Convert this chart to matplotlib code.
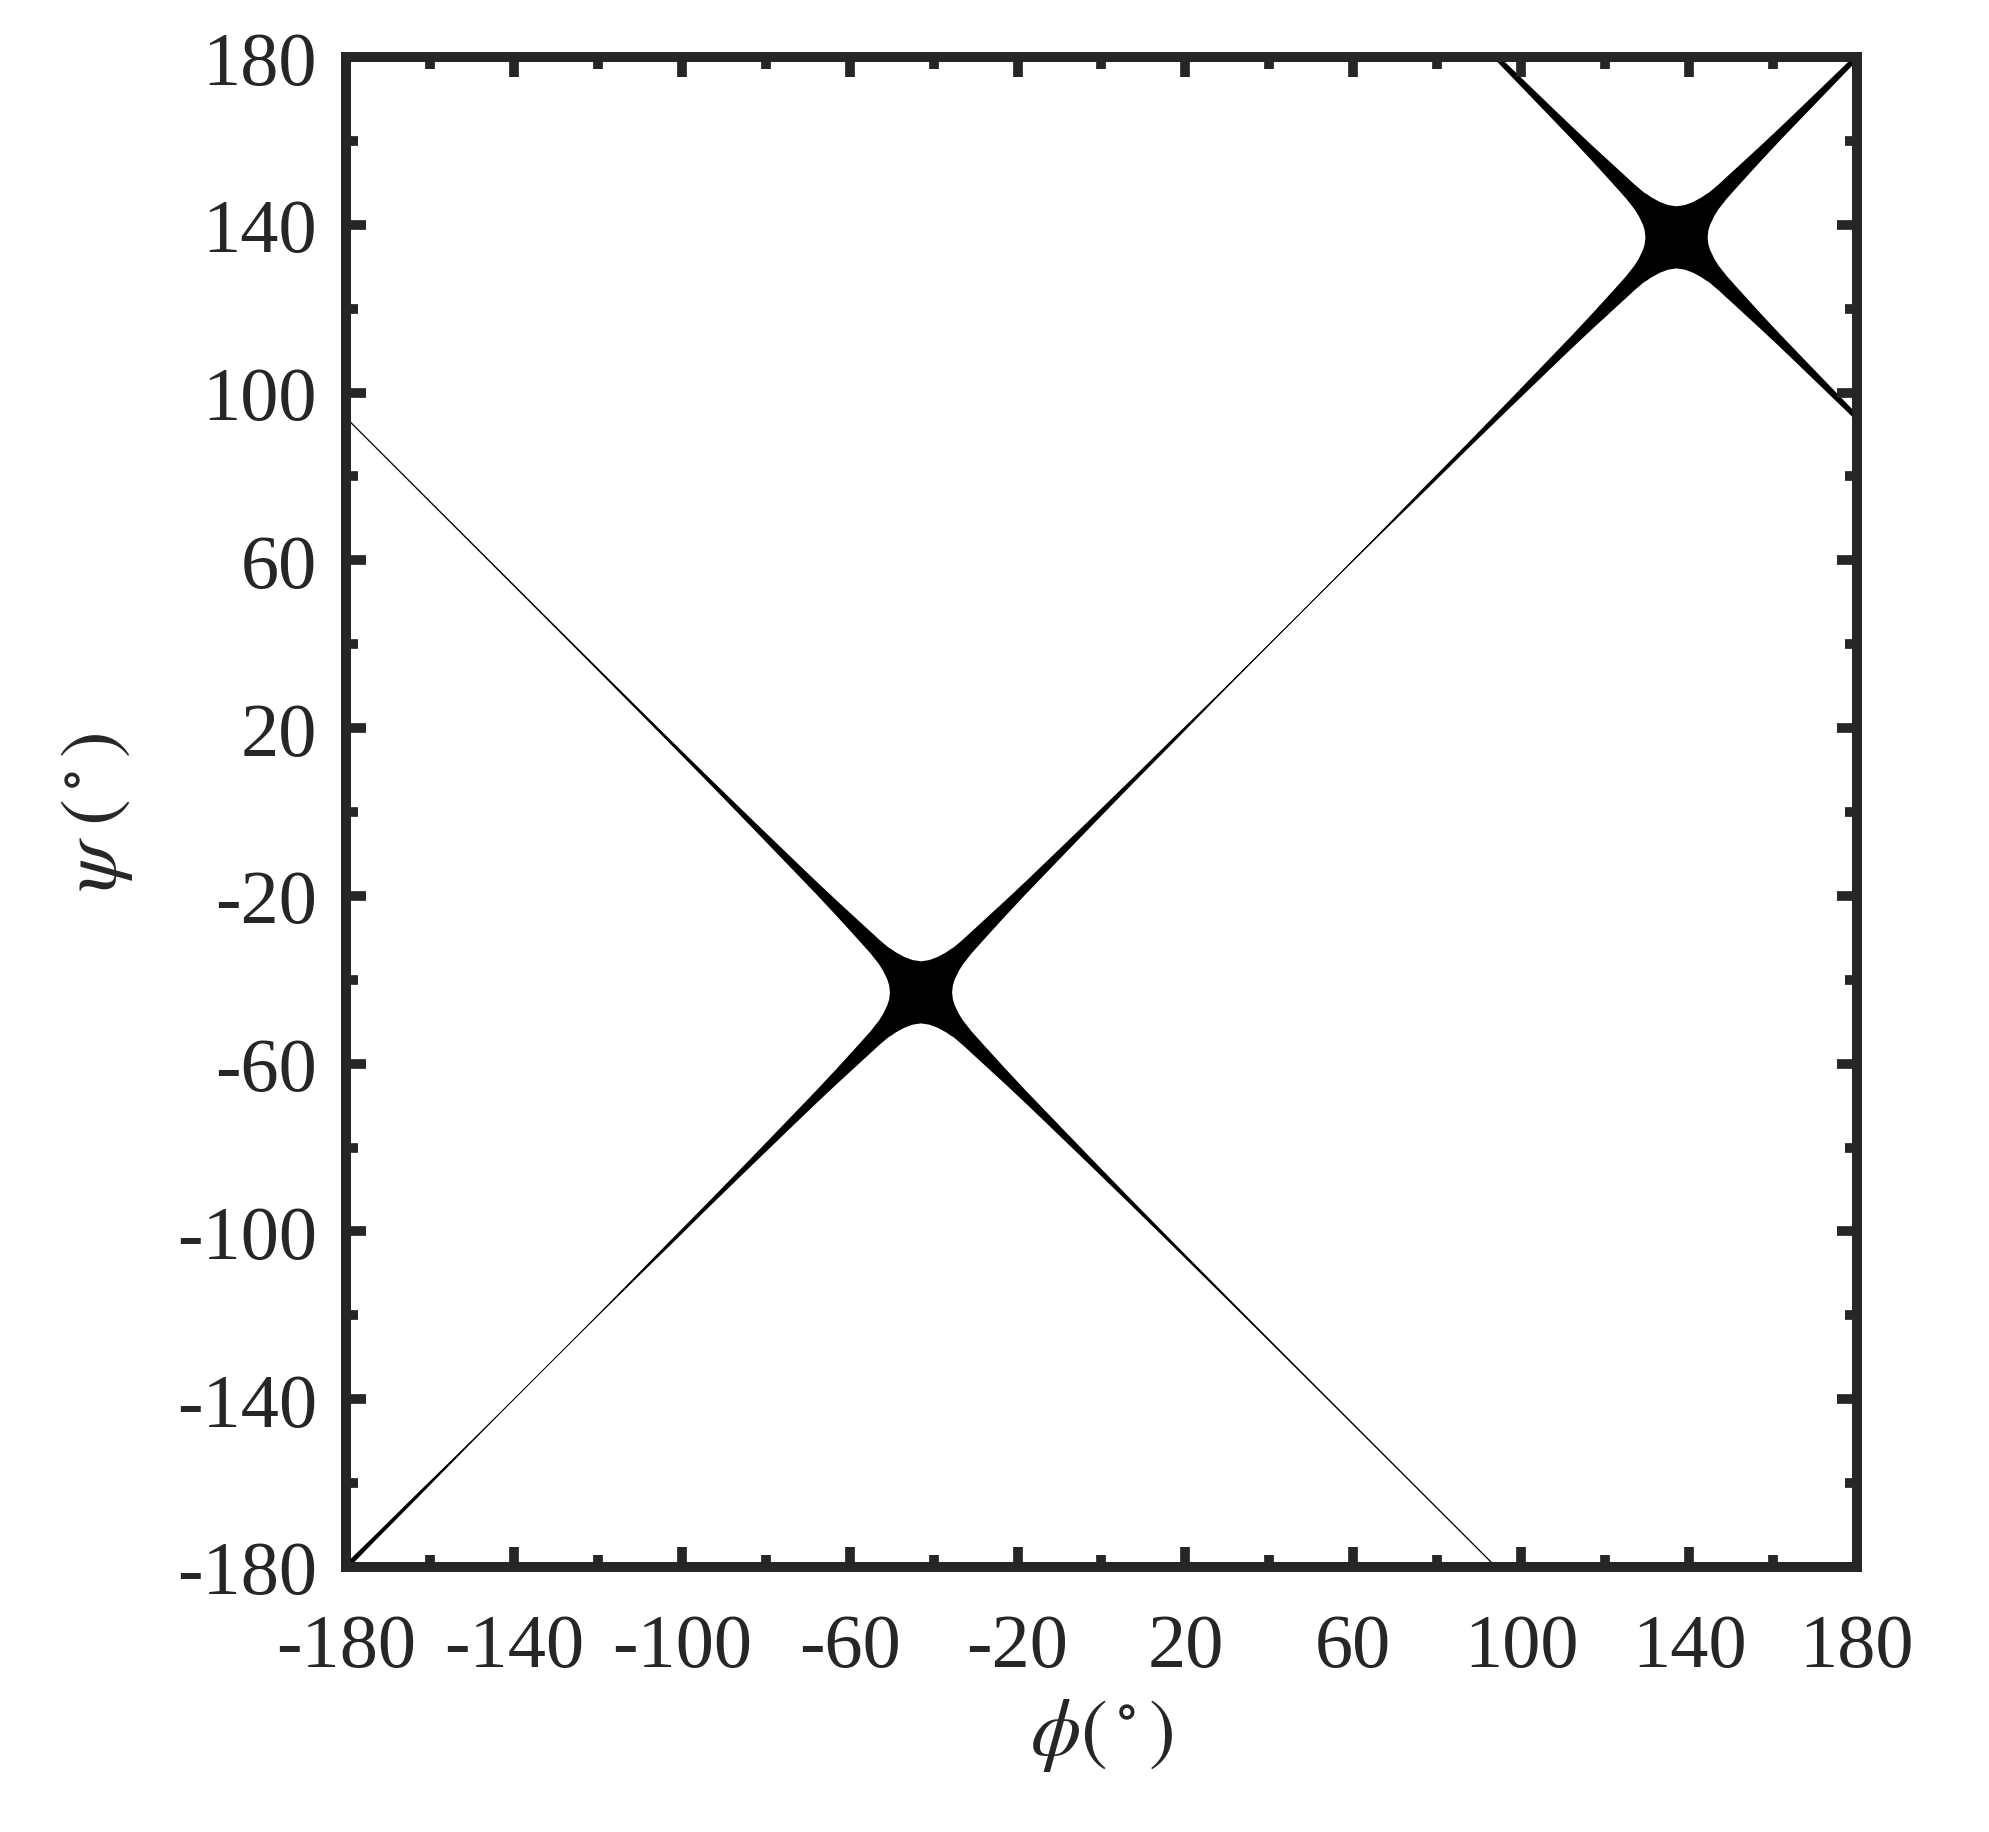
import numpy as np
import matplotlib
matplotlib.use("Agg")
import matplotlib.pyplot as plt
from matplotlib.ticker import MultipleLocator
from matplotlib.path import Path
from matplotlib.patches import PathPatch

# ---------------- data ----------------
# crossing points of the two ridge lines (phi, psi), degrees
cross_phi = [-43.0, 137.0]
cross_psi = [-43.0, 137.0]
period = 360.0  # the diagonal ridge wraps around

# phi-distance from a crossing (deg)
arm_offset = [0, 2, 4, 6, 7, 7.4, 7.6, 8, 9, 10, 12, 15, 20, 25, 30,
              40, 50, 60, 70, 80, 90, 110, 140]
# diagonal (psi = phi) ridge: vertical distance from the line to its outer / inner edge (deg)
diag_outer = [7.4, 5.7, 4.45, 3.55, 3.25, 3.1, 3.0, 2.9, 2.75, 2.6, 2.45, 2.2, 1.8,
              1.5, 1.3, 0.95, 0.68, 0.55, 0.3, 0.15, 0.1, 0.09, 0.08]
diag_inner = [0, 2, 4, 6, 7, 7.4, 5.9, 5.0, 3.9, 3.3, 2.75, 2.4, 1.9,
              1.55, 1.35, 0.97, 0.68, 0.55, 0.3, 0.15, 0.1, 0.09, 0.08]
# anti-diagonal ridge
anti_outer = [7.4, 5.7, 4.45, 3.55, 3.25, 3.1, 3.0, 2.9, 2.75, 2.6, 2.45, 2.2, 1.8,
              1.5, 1.3, 0.95, 0.68, 0.5, 0.38, 0.3, 0.26, 0.23, 0.21]
anti_inner = [0, 2, 4, 6, 7, 7.4, 5.9, 5.0, 3.9, 3.3, 2.75, 2.4, 1.9,
              1.55, 1.35, 0.97, 0.68, 0.5, 0.38, 0.3, 0.26, 0.23, 0.21]

major_ticks = [-180, -140, -100, -60, -20, 20, 60, 100, 140, 180]
tick_labels = ["-180", "-140", "-100", "-60", "-20", "20", "60", "100", "140", "180"]

# ---------------- figure ----------------
plt.rcParams["font.family"] = ["Liberation Serif", "DejaVu Serif"]
plt.rcParams["mathtext.fontset"] = "stix"
plt.rcParams["axes.unicode_minus"] = False

DPI = 100
fig = plt.figure(figsize=(19.90, 18.33), dpi=DPI)
ax = fig.add_axes([346 / 1990, 1 - 1568 / 1833, (1857 - 346) / 1990, (1568 - 58) / 1833])

INK = "#262626"

polys = []


def arm_polygon(c_phi, c_psi, sx, sy, outer, inner):
    t = np.asarray(arm_offset, float)
    phi = c_phi + sx * t
    y_out = c_psi + sy * (t + np.asarray(outer, float))
    y_in = c_psi + sy * (t - np.asarray(inner, float))
    xs = np.concatenate([phi, phi[::-1]])
    ys = np.concatenate([y_out, y_in[::-1]])
    # make every polygon counter-clockwise so shared edges cancel (no seams)
    area = 0.5 * np.sum(xs * np.roll(ys, -1) - np.roll(xs, -1) * ys)
    if area < 0:
        xs, ys = xs[::-1], ys[::-1]
    return np.column_stack([xs, ys])


for cp, cs in zip(cross_phi, cross_psi):
    polys.append(arm_polygon(cp, cs, -1, +1, anti_outer, anti_inner))
    polys.append(arm_polygon(cp, cs, +1, -1, anti_outer, anti_inner))
    for k in (-1, 0, 1):
        polys.append(arm_polygon(cp + k * period, cs + k * period, +1, +1, diag_outer, diag_inner))
        polys.append(arm_polygon(cp + k * period, cs + k * period, -1, -1, diag_outer, diag_inner))

verts, codes = [], []
for p in polys:
    verts.extend(p.tolist())
    verts.append(p[0].tolist())
    codes.extend([Path.MOVETO] + [Path.LINETO] * (len(p) - 1) + [Path.CLOSEPOLY])
ridge = PathPatch(Path(verts, codes), facecolor="black", edgecolor="none", lw=0)
ax.add_patch(ridge)

ax.set_xlim(-180, 180)
ax.set_ylim(-180, 180)

for axis in (ax.xaxis, ax.yaxis):
    axis.set_major_locator(plt.FixedLocator(major_ticks))
    axis.set_minor_locator(MultipleLocator(20))
ax.set_xticklabels(tick_labels)
ax.set_yticklabels(tick_labels)

ax.tick_params(which="both", direction="in", top=True, right=True, color=INK,
               width=7.0, labelcolor=INK, labelsize=55)
ax.tick_params(which="major", length=14.4)
ax.tick_params(which="minor", length=8.6)
ax.tick_params(axis="x", which="major", pad=33)
ax.tick_params(axis="y", which="major", pad=21)

for sp in ax.spines.values():
    sp.set_linewidth(7.2)
    sp.set_color(INK)

ax.set_xlabel(r"$\phi(^\circ)$", fontsize=58, color=INK, labelpad=10)
ax.set_ylabel(r"$\psi\ (^\circ)$", fontsize=58, color=INK, labelpad=30)

fig.savefig("out.png", dpi=DPI, facecolor="white")
